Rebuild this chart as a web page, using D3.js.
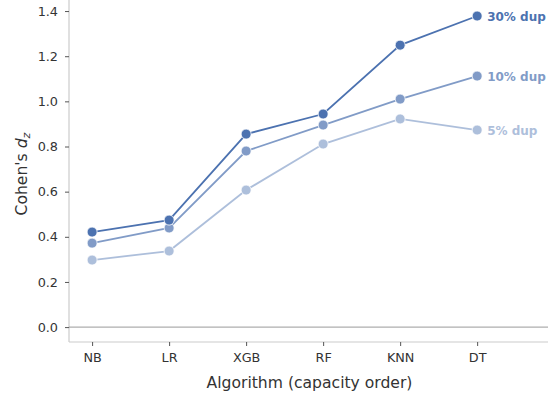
<!DOCTYPE html>
<html>
<head>
<meta charset="utf-8">
<script src="https://cdn.jsdelivr.net/npm/d3@7"></script>
<style>
  body { margin: 0; background: #fff; }
  text { font-family: "DejaVu Sans", sans-serif; }
</style>
</head>
<body>
<div id="chart"></div>
<script>
const algorithms = ["NB", "LR", "XGB", "RF", "KNN", "DT"]
const dup30 = [0.421, 0.474, 0.855, 0.944, 1.249, 1.378]
const dup10 = [0.372, 0.439, 0.780, 0.895, 1.010, 1.112]
const dup5 = [0.297, 0.337, 0.607, 0.811, 0.922, 0.873]
const seriesNames = ["5% dup", "10% dup", "30% dup"]
const yTicks = [0.0, 0.2, 0.4, 0.6, 0.8, 1.0, 1.2, 1.4]

const width = 548, height = 394
const margin = {top: 0, right: 0, bottom: 52, left: 69}
const base = "#4c72b0"

const series = [
    {name: seriesNames[0], values: dup5, alpha: 0.45},
    {name: seriesNames[1], values: dup10, alpha: 0.7},
    {name: seriesNames[2], values: dup30, alpha: 1}
]

const svg = d3.select("#chart").append("svg")
    .attr("width", width)
    .attr("height", height)

const x = d3.scaleLinear()
    .domain([-0.3, 5.92])
    .range([margin.left, width - margin.right])

const y = d3.scaleLinear()
    .domain([-0.066, 1.449])
    .range([height - margin.bottom, margin.top])

// axes
const yAxis = svg.append("g")
    .attr("transform", `translate(${margin.left},0)`)
    .call(d3.axisLeft(y).tickValues(yTicks).tickFormat(d3.format(".1f")).tickSize(4).tickPadding(7))
const xAxis = svg.append("g")
    .attr("transform", `translate(0,${height - margin.bottom})`)
    .call(d3.axisBottom(x).tickValues(d3.range(algorithms.length)).tickFormat(i => algorithms[i]).tickSize(4).tickPadding(7))

for (const ax of [xAxis, yAxis]) {
    ax.attr("font-family", null).attr("font-size", null)
    ax.select(".domain").attr("stroke", "#cccccc").attr("stroke-width", 1.2)
    ax.selectAll(".tick line").attr("stroke", "#555").attr("stroke-width", 1)
    ax.selectAll(".tick text").attr("fill", "#333").attr("font-size", 12.8)
}
yAxis.select(".domain").attr("d", `M0,${height - margin.bottom}V0`)
xAxis.select(".domain").attr("d", `M${margin.left},0H${width}`)

// zero line
svg.append("line")
    .attr("x1", margin.left).attr("x2", width)
    .attr("y1", y(0)).attr("y2", y(0))
    .attr("stroke", "#999").attr("stroke-width", 1)

// axis labels
svg.append("text")
    .attr("x", (margin.left + width) / 2 + 1)
    .attr("y", 388)
    .attr("text-anchor", "middle")
    .attr("font-size", 15.6)
    .attr("fill", "#333")
    .text("Algorithm (capacity order)")

const ylab = svg.append("text")
    .attr("transform", `translate(27,${(y(0) + y(1.4)) / 2 + 5}) rotate(-90)`)
    .attr("text-anchor", "middle")
    .attr("font-size", 15.6)
    .attr("fill", "#333")
ylab.append("tspan").text("Cohen's ")
ylab.append("tspan").attr("font-style", "italic").text("d")
ylab.append("tspan").attr("font-style", "italic").attr("font-size", 11).attr("dy", 3).text("z")

// lines and points
const line = d3.line().x((d, i) => x(i)).y(d => y(d))

for (const s of series) {
    const g = svg.append("g").attr("opacity", s.alpha)
    g.append("path")
        .datum(s.values)
        .attr("d", line)
        .attr("fill", "none")
        .attr("stroke", base)
        .attr("stroke-width", 1.8)
    g.selectAll("circle")
        .data(s.values)
        .join("circle")
        .attr("cx", (d, i) => x(i))
        .attr("cy", d => y(d))
        .attr("r", 5)
        .attr("fill", base)
        .attr("stroke", "#fff")
        .attr("stroke-width", 0.8)
    g.append("text")
        .attr("x", x(algorithms.length - 1) + 10)
        .attr("y", y(s.values[s.values.length - 1]) + 4.5)
        .attr("font-size", 12)
        .attr("font-weight", "bold")
        .attr("fill", base)
        .text(s.name)
}
</script>
</body>
</html>
